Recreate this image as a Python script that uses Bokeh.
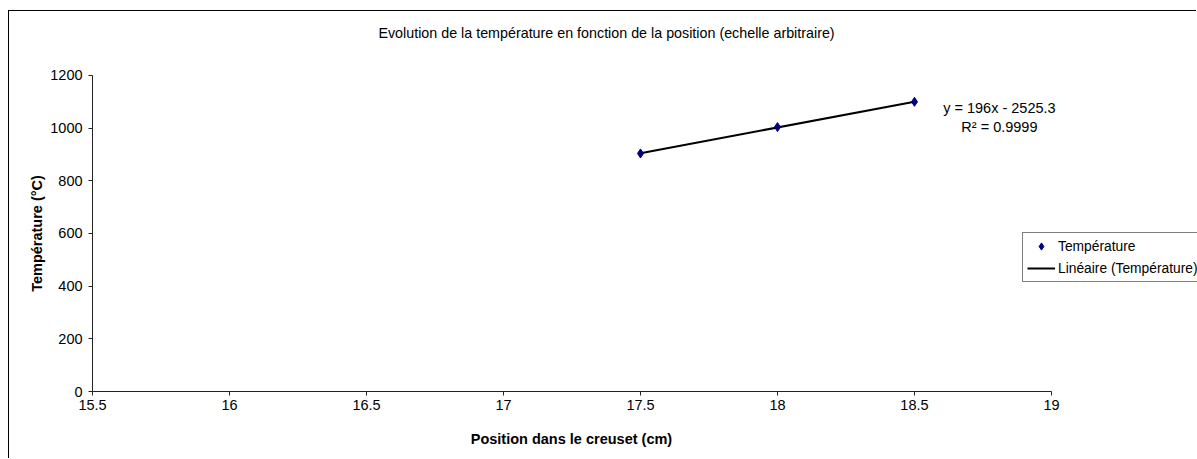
import numpy as np
from bokeh.plotting import figure
from bokeh.models import Range1d, FixedTicker, Legend, LegendItem, Label
from bokeh.embed import file_html
from bokeh.resources import INLINE

# ---------------- data ----------------
positions = [17.5, 18.0, 18.5]
temperatures = [904, 1004, 1100]
trend_slope = 196.0
trend_intercept = -2525.3
r_squared = 0.9999

x_ticks = [15.5, 16, 16.5, 17, 17.5, 18, 18.5, 19]
x_tick_labels = ["15.5", "16", "16.5", "17", "17.5", "18", "18.5", "19"]
y_ticks = [0, 200, 400, 600, 800, 1000, 1200]
y_tick_labels = ["0", "200", "400", "600", "800", "1000", "1200"]

title_text = "Evolution de la température en fonction de la position (echelle arbitraire)"
x_label = "Position dans le creuset (cm)"
y_label = "Température (°C)"
series_name = "Température"
trend_name = "Linéaire (Température)"

FONT = "Liberation Sans"
FS = "14.5px"
FS_LEG = "13.8px"

# axis extents (data) and visible plotting window (extended so that the
# titles, legend and tick labels all sit inside the drawing frame)
x_axis_bounds = (15.5, 19)
y_axis_bounds = (0, 1200)
x_view = (15.197, 19.533)
y_view = (-258.2, 1443)

# ---------------- figure ----------------
p = figure(width=1188, height=448,
           x_range=Range1d(*x_view), y_range=Range1d(*y_view),
           output_backend="svg", toolbar_location=None,
           min_border_left=0, min_border_right=0,
           min_border_top=0, min_border_bottom=0)
p.styles = {"margin-left": "8px", "margin-top": "10px",
            "border-left": "1px solid #000", "border-top": "1px solid #000"}
p.outline_line_color = None
p.xgrid.visible = False
p.ygrid.visible = False
p.background_fill_color = "white"
p.border_fill_color = "white"

# chart title
p.add_layout(Label(x=17.376, y=1363, text=title_text, text_align="center",
                   text_baseline="middle", text_font=FONT,
                   text_font_size="14.3px", text_color="black"))

# trend line from fitted coefficients
tx = np.array([min(positions), max(positions)])
ty = trend_slope * tx + trend_intercept
ln = p.line(tx, ty, line_color="black", line_width=2)
sc = p.scatter(positions, temperatures, marker="diamond",
               size=9, fill_color="#000080", line_color="#000080")

# axes (pinned at x=15.5 / y=0)
for ax, ticks, labels, bnds in ((p.xaxis[0], x_ticks, x_tick_labels, x_axis_bounds),
                                (p.yaxis[0], y_ticks, y_tick_labels, y_axis_bounds)):
    ax.bounds = bnds
    ax.ticker = FixedTicker(ticks=ticks)
    ax.major_label_overrides = {k: v for k, v in zip(ticks, labels)}
    ax.minor_tick_line_color = None
    ax.major_tick_in = 0
    ax.major_tick_out = 4
    ax.axis_line_color = "#222222"
    ax.major_tick_line_color = "#222222"
    ax.major_label_text_font = FONT
    ax.major_label_text_font_size = FS
    ax.major_label_text_color = "black"

p.xaxis.fixed_location = y_axis_bounds[0]
p.yaxis.fixed_location = x_axis_bounds[0]
p.xaxis.major_label_standoff = 4
p.yaxis.major_label_standoff = 6

# axis titles
p.add_layout(Label(x=17.248, y=-178.5, text=x_label, text_align="center",
                   text_baseline="middle", text_font=FONT,
                   text_font_size=FS, text_font_style="bold",
                   text_color="black"))
p.add_layout(Label(x=15.2956, y=600, text=y_label, angle=np.pi / 2,
                   text_align="center", text_baseline="middle",
                   text_font=FONT, text_font_size=FS,
                   text_font_style="bold", text_color="black"))

# equation labels
eq1 = "y = %gx - %g" % (trend_slope, abs(trend_intercept))
eq2 = "R² = %g" % r_squared
for txt, yy in ((eq1, 1078), (eq2, 1003)):
    p.add_layout(Label(x=18.81, y=yy, text=txt, text_align="center",
                       text_baseline="middle", text_font=FONT,
                       text_font_size=FS, text_color="black"))

legend = Legend(items=[LegendItem(label=series_name, renderers=[sc]),
                       LegendItem(label=trend_name, renderers=[ln])],
                location=(1013, 177), orientation="vertical",
                border_line_color="black", border_line_width=1,
                background_fill_color="white", background_fill_alpha=1,
                padding=4, spacing=4, margin=0,
                glyph_width=28, glyph_height=18, label_height=18,
                label_standoff=3, label_text_font=FONT,
                label_text_font_size=FS_LEG, label_text_color="black")
p.add_layout(legend, "center")

open("out.html", "w").write(file_html(p, INLINE))
